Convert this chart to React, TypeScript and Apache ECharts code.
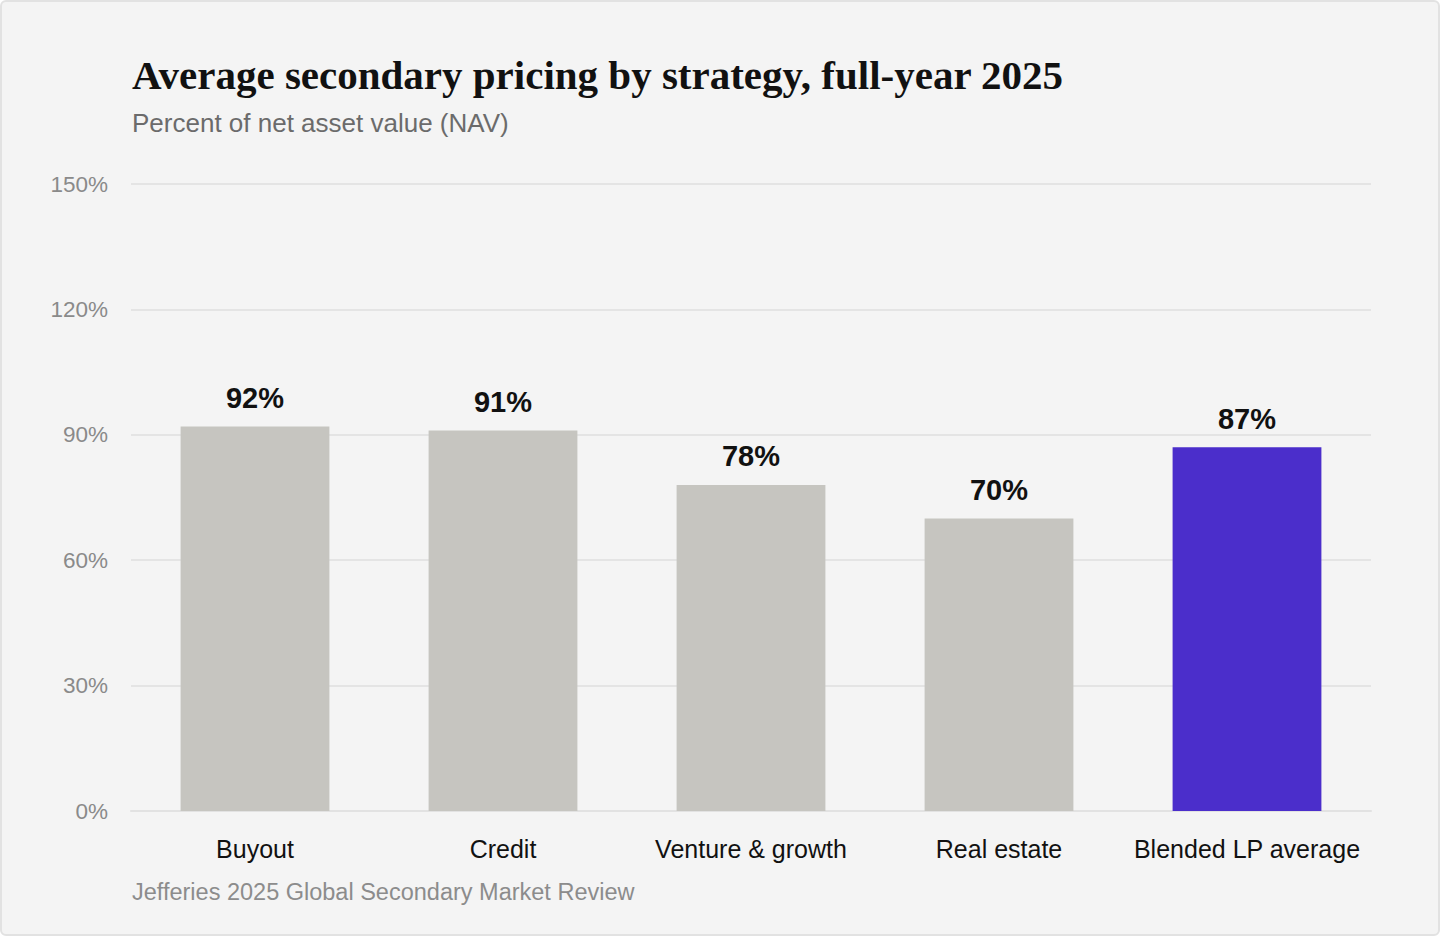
import { useEffect, useRef } from "react";
import * as echarts from "echarts";

const categories = ["Buyout", "Credit", "Venture & growth", "Real estate", "Blended LP average"];
const pricing = [92, 91, 78, 70, 87];
const barColors = ["#c6c5c0", "#c6c5c0", "#c6c5c0", "#c6c5c0", "#4b2ecb"];

const titleText = "Average secondary pricing by strategy, full-year 2025";
const subtitleText = "Percent of net asset value (NAV)";
const sourceText = "Jefferies 2025 Global Secondary Market Review";

const SANS = "'Liberation Sans', Arial, Helvetica, sans-serif";

export default function App() {
  const chartRef = useRef<HTMLDivElement>(null);

  useEffect(() => {
    if (!chartRef.current) return;
    const chart = echarts.init(chartRef.current, null, { renderer: "svg" });

    chart.setOption({
      animation: false,
      backgroundColor: "transparent",
      title: [
        {
          text: titleText,
          left: 132,
          top: 54,
          padding: 0,
          textStyle: {
            fontFamily: "'Liberation Serif', 'DejaVu Serif', serif",
            fontWeight: "bold",
            fontSize: 41,
            color: "#111111",
          },
        },
        {
          text: subtitleText,
          left: 132,
          top: 110,
          padding: 0,
          textStyle: { fontFamily: SANS, fontWeight: "normal", fontSize: 26, color: "#6b6b6b" },
        },
        {
          text: sourceText,
          left: 132,
          top: 880,
          padding: 0,
          textStyle: { fontFamily: SANS, fontWeight: "normal", fontSize: 23.5, color: "#8c8c8c" },
        },
      ],
      grid: { left: 131, right: 69, top: 184, bottom: 125 },
      xAxis: {
        type: "category",
        data: categories,
        axisTick: { show: false },
        axisLine: { lineStyle: { color: "#e2e2e2", width: 2 } },
        axisLabel: { interval: 0, color: "#111111", fontFamily: SANS, fontSize: 25, margin: 25 },
      },
      yAxis: {
        type: "value",
        min: 0,
        max: 150,
        interval: 30,
        axisLine: { show: false },
        axisTick: { show: false },
        splitLine: { lineStyle: { color: "#e4e4e4", width: 2 } },
        axisLabel: {
          formatter: "{value}%",
          color: "#8a8a8a",
          fontFamily: SANS,
          fontSize: 22.5,
          margin: 23,
        },
      },
      series: [
        {
          type: "bar",
          barWidth: "60%",
          data: pricing.map((v, i) => ({ value: v, itemStyle: { color: barColors[i] } })),
          label: {
            show: true,
            position: "top",
            distance: 14,
            formatter: "{c}%",
            fontFamily: SANS,
            fontWeight: "bold",
            fontSize: 29,
            color: "#111111",
          },
        },
      ],
    });

    return () => chart.dispose();
  }, []);

  return (
    <div
      style={{
        position: "fixed",
        left: 0,
        top: 0,
        width: 1440,
        height: 936,
        boxSizing: "border-box",
        background: "#f4f4f4",
        border: "2px solid #e2e2e2",
        borderRadius: 6,
      }}
    >
      <div ref={chartRef} style={{ position: "absolute", left: -2, top: -2, width: 1440, height: 936 }} />
    </div>
  );
}
